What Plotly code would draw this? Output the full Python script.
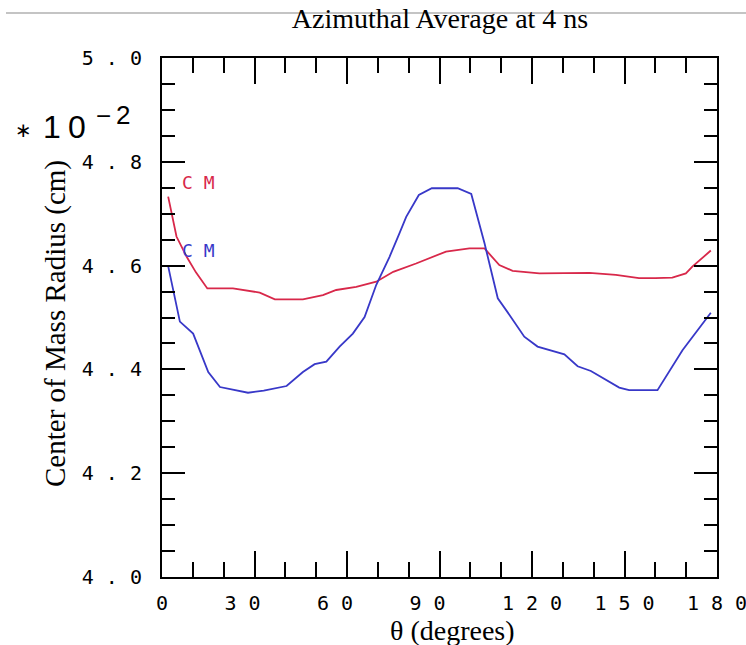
import plotly.graph_objects as go

# ---- data ----
red_theta = [2, 4.7, 8, 11, 14.7, 23, 31.7, 36.6, 45.7, 52.2, 56.5, 63, 69.5, 75, 82.4,
             92.1, 99.7, 104.6, 109.4, 113.7, 122.4, 138.6, 147.2, 154.7, 160, 165.5,
             169.9, 172, 178]
red_radius = [4.733, 4.656, 4.617, 4.587, 4.556, 4.556, 4.548, 4.535, 4.535, 4.543, 4.553,
              4.559, 4.569, 4.588, 4.604, 4.627, 4.633, 4.633, 4.601, 4.590, 4.585, 4.586,
              4.582, 4.576, 4.576, 4.577, 4.585, 4.598, 4.629]

blue_theta = [2, 5.8, 10.1, 15, 18.8, 27.9, 33, 40.4, 45.7, 49.5, 53.3, 57.6, 61.9, 65.7,
              69.5, 73.8, 77, 79.2, 83.3, 87.5, 95.9, 100.3, 104.6, 108.9, 112.7, 117.5,
              121.8, 130.5, 134.8, 139.1, 148.3, 151.5, 160.7, 164.5, 168.8, 178]
blue_radius = [4.599, 4.492, 4.469, 4.395, 4.366, 4.355, 4.359, 4.368, 4.395, 4.410, 4.415,
               4.444, 4.469, 4.501, 4.563, 4.617, 4.662, 4.694, 4.736, 4.749, 4.749, 4.738,
               4.643, 4.537, 4.505, 4.463, 4.444, 4.429, 4.406, 4.397, 4.365, 4.360, 4.360,
               4.395, 4.437, 4.509]

x_tickvals = [0, 30, 60, 90, 120, 150, 180]
x_ticktext = ["0", "3 0\u00a0\u00a0", "6 0\u00a0\u00a0", "9 0\u00a0\u00a0", "1 2 0", "1 5 0", "1 8 0"]
y_tickvals = [4.0, 4.2, 4.4, 4.6, 4.8, 5.0]
y_ticktext = ["4 . 0", "4 . 2", "4 . 4", "4 . 6", "4 . 8", "5 . 0"]

RED = "#d8284a"
BLUE = "#3838c8"
MONO = "DejaVu Sans Mono"
SERIF = "Liberation Serif"

fig = go.Figure()
fig.add_trace(go.Scatter(x=red_theta, y=red_radius, mode="lines",
                         line=dict(color=RED, width=1.8), showlegend=False))
fig.add_trace(go.Scatter(x=blue_theta, y=blue_radius, mode="lines",
                         line=dict(color=BLUE, width=1.8), showlegend=False))

axis_common = dict(showline=True, linewidth=2, linecolor="black", mirror="ticks",
                   ticks="inside", tickwidth=2, tickcolor="black", showgrid=False,
                   zeroline=False, ticklabeloverflow="allow", automargin=False,
                   tickfont=dict(family=MONO, size=20, color="black"))

fig.update_xaxes(range=[0, 180], tickvals=x_tickvals, ticktext=x_ticktext, ticklen=26,
                 minor=dict(dtick=10, ticks="inside", ticklen=15, tickwidth=2, tickcolor="black"),
                 ticklabelstandoff=7, **axis_common)
fig.update_yaxes(range=[4.0, 5.0], tickvals=y_tickvals, ticktext=y_ticktext, ticklen=23,
                 minor=dict(dtick=0.05, ticks="inside", ticklen=13, tickwidth=2, tickcolor="black"),
                 ticklabelstandoff=14, **axis_common)

annotations = [
    dict(text="C M", x=5.8, y=4.760, xref="x", yref="y", xanchor="left", yanchor="middle",
         showarrow=False, font=dict(family=MONO, size=18, color=RED)),
    dict(text="C M", x=5.8, y=4.630, xref="x", yref="y", xanchor="left", yanchor="middle",
         showarrow=False, font=dict(family=MONO, size=18, color=BLUE)),
    dict(text="θ (degrees)", x=(452 - 162) / 555, y=(577 - 630) / 519, xref="paper", yref="paper",
         xanchor="center", yanchor="middle", showarrow=False,
         font=dict(family=SERIF, size=28, color="black")),
    dict(text="Center of Mass Radius (cm)", x=(55 - 162) / 555, y=(577 - 324) / 519,
         xref="paper", yref="paper", xanchor="center", yanchor="middle", textangle=-90,
         showarrow=False, font=dict(family=SERIF, size=29, color="black")),
    dict(text="∗", x=(23 - 162) / 555, y=(577 - 130) / 519, xref="paper", yref="paper",
         xanchor="center", yanchor="middle", showarrow=False,
         font=dict(family="DejaVu Sans", size=20, color="black")),
    dict(text="1", x=(52 - 162) / 555, y=(577 - 127) / 519, xref="paper", yref="paper",
         xanchor="center", yanchor="middle", showarrow=False,
         font=dict(family="Liberation Sans", size=32, color="black")),
    dict(text="0", x=(76.5 - 162) / 555, y=(577 - 127) / 519, xref="paper", yref="paper",
         xanchor="center", yanchor="middle", showarrow=False,
         font=dict(family="Liberation Sans", size=32, color="black")),
    dict(text="−", x=(103.5 - 162) / 555, y=(577 - 116) / 519, xref="paper", yref="paper",
         xanchor="center", yanchor="middle", showarrow=False,
         font=dict(family="Liberation Sans", size=26, color="black")),
    dict(text="2", x=(122.5 - 162) / 555, y=(577 - 114.5) / 519, xref="paper", yref="paper",
         xanchor="center", yanchor="middle", showarrow=False,
         font=dict(family="Liberation Sans", size=26, color="black")),
]

fig.update_layout(
    width=746, height=645, autosize=False,
    margin=dict(l=162, r=29, t=58, b=68),
    paper_bgcolor="white", plot_bgcolor="white",
    title=dict(text="Azimuthal Average at 4 ns", x=(440 - 162) / 555, xref="paper",
               xanchor="center", y=1 - 18 / 645, yref="container", yanchor="middle",
               font=dict(family=SERIF, size=28, color="black")),
    annotations=annotations,
    shapes=[dict(type="line", xref="paper", yref="paper", x0=(6 - 162) / 555, x1=(746 - 162) / 555,
                 y0=(577 - 13) / 519, y1=(577 - 13) / 519, line=dict(color="#c4c4c4", width=2),
                 layer="below")],
)

fig.write_html("out.html", config={"displayModeBar": False},
               post_script="document.body.style.margin='0';document.body.style.overflow='hidden';")
